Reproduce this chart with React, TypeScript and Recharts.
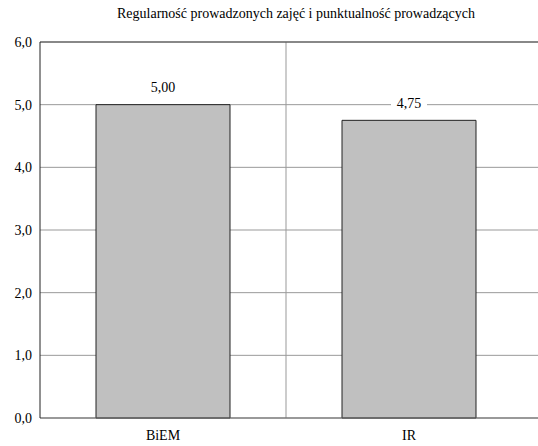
import React from "react";
import {
  BarChart,
  Bar,
  XAxis,
  YAxis,
  CartesianGrid,
  LabelList,
  ReferenceLine,
} from "recharts";

const categories = ["BiEM", "IR"];
const values = [5.0, 4.75];
const yTicks = [0, 1, 2, 3, 4, 5, 6];

const data = categories.map((name, i) => ({ name, value: values[i] }));

const FONT = "Liberation Serif, DejaVu Serif, Noto Serif, Times New Roman, serif";
const RIGHT_PAD = 6;

const comma = (v: number, digits: number) => v.toFixed(digits).replace(".", ",");

// value label with white box so the gridline is broken behind it
const ValueLabel = (props: any) => {
  const { x, y, width, value } = props;
  const cx = x + width / 2;
  const cy = y - 17;
  return (
    <g>
      <rect x={cx - 18} y={cy - 8} width={36} height={16} fill="#fff" />
      <text
        x={cx}
        y={cy}
        textAnchor="middle"
        dominantBaseline="central"
        style={{ fontFamily: FONT }}
        fontSize={14}
        fill="#000"
      >
        {comma(value, 2)}
      </text>
    </g>
  );
};

// one vertical line between the two categories
const dividerX = ({ offset }: any) => [offset.left + (offset.width - RIGHT_PAD) / 2];

export default function App() {
  return (
    <div style={{ position: "fixed", left: 0, top: 0, width: 538, height: 446, background: "#fff", fontFamily: FONT }}>
      <div
        style={{
          position: "absolute",
          left: 54,
          top: 6,
          width: 484,
          textAlign: "center",
          fontSize: 14,
          color: "#000",
        }}
      >
        Regularność prowadzonych zajęć i punktualność prowadzących
      </div>
      <BarChart
        width={538}
        height={446}
        data={data}
        margin={{ top: 42, right: 0, left: 0, bottom: 0 }}
        style={{ fontFamily: FONT }}
      >
        <CartesianGrid stroke="#999" verticalCoordinatesGenerator={dividerX} />
        <XAxis
          dataKey="name"
          height={28}
          padding={{ left: 0, right: RIGHT_PAD }}
          tickLine={false}
          stroke="#666"
          tickMargin={6}
          tick={{ fill: "#000", fontSize: 14, style: { fontFamily: FONT } }}
        />
        <YAxis
          width={40}
          domain={[0, 6]}
          ticks={yTicks}
          interval={0}
          tickLine={false}
          stroke="#222"
          tickFormatter={(v: number) => comma(v, 1)}
          tick={{ fill: "#000", fontSize: 14, style: { fontFamily: FONT } }}
        />
        <ReferenceLine y={6} stroke="#444" />
        <Bar dataKey="value" fill="#c0c0c0" stroke="#222" strokeWidth={1} barSize={134} isAnimationActive={false}>
          <LabelList dataKey="value" content={ValueLabel} />
        </Bar>
      </BarChart>
    </div>
  );
}
